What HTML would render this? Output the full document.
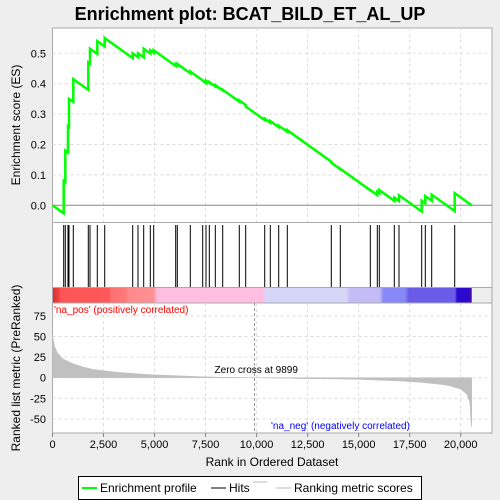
<!DOCTYPE html>
<html><head><meta charset="utf-8"><style>
body{margin:0;background:#eeeeee;font-family:"Liberation Sans",sans-serif;}
svg{display:block}
</style></head><body>
<svg id="c" width="500" height="500" xmlns="http://www.w3.org/2000/svg">
<rect x="0" y="0" width="500" height="500" fill="#eeeeee"/>
<text x="250" y="20" text-anchor="middle" font-size="18" font-weight="bold" fill="#000">Enrichment plot: BCAT_BILD_ET_AL_UP</text>
<g id="es"></g>
<g id="hits"></g>
<g id="metric"></g>
<text transform="translate(20,125) rotate(-90)" text-anchor="middle" font-size="12">Enrichment score (ES)</text>
<text transform="translate(20,368) rotate(-90)" text-anchor="middle" font-size="12">Ranked list metric (PreRanked)</text>
<text x="272" y="466" text-anchor="middle" font-size="12">Rank in Ordered Dataset</text>
<g>
<rect x="78.5" y="476.5" width="343" height="23" fill="#fff" stroke="#000"/>
<line x1="82" y1="488" x2="97" y2="488" stroke="#00ff00" stroke-width="2"/>
<text x="100" y="492" font-size="12">Enrichment profile</text>
<line x1="211" y1="488" x2="226" y2="488" stroke="#000" stroke-width="1"/>
<text x="229" y="492" font-size="12">Hits</text>
<line x1="253" y1="482" x2="267" y2="482" stroke="#bbb"/>
<line x1="276" y1="488" x2="291" y2="488" stroke="#bbb"/>
<text x="294" y="492" font-size="12">Ranking metric scores</text>
</g>
</svg>
<script>
const hitRanks=[549,627,759,808,1019,1754,1837,2195,2558,3929,4189,4468,4792,4958,6036,6115,6752,7359,7521,7683,7977,8339,9152,9466,10397,10671,11083,11504,13660,14101,15571,15914,16012,16747,16977,18089,18266,18579,19706];
const esAtHit=[0.08,0.18,0.26,0.35,0.415,0.47,0.515,0.54,0.55,0.50,0.50,0.515,0.51,0.51,0.465,0.465,0.44,0.41,0.41,0.405,0.395,0.38,0.345,0.325,0.285,0.277,0.262,0.247,0.14,0.12,0.05,0.045,0.05,0.025,0.033,0.015,0.03,0.035,0.04];
const esTicks=[0.0,0.1,0.2,0.3,0.4,0.5];
const metricRanks=[0,100,250,500,1000,1500,2000,3000,4000,5000,6000,7000,8000,9899,11000,12000,14000,15000,16000,17000,18000,19000,19500,20000,20300,20450,20500,20540];
const metricValues=[52,38,30,23,17,13,10,7,5,3.5,2.5,1.5,0.7,0,-0.5,-1,-1.5,-2,-3,-4,-5.5,-8,-10,-14,-20,-30,-52,-60];
const metricTicks=[75,50,25,0,-25,-50];
const xTicks=[0,2500,5000,7500,10000,12500,15000,17500,20000];
const xTickLabels=["0","2,500","5,000","7,500","10,000","12,500","15,000","17,500","20,000"];
const totalRanks=20540, zeroCross=9899, esSlope=4.8e-5;

const NS="http://www.w3.org/2000/svg";
const L=52.5,R=492,x=r=>L+r*0.02041;
const esY=v=>205.3-v*304;
const mY=v=>377.7-v*0.825;
function mk(p,t,a){const e=document.createElementNS(NS,t);for(const k in a)e.setAttribute(k,a[k]);p.appendChild(e);return e;}
const es=document.getElementById('es'),hits=document.getElementById('hits'),met=document.getElementById('metric');

// ES panel
let r=mk(es,'rect',{x:L,y:28,width:R-L,height:194.5,fill:'#fff',stroke:'#aaa'});


xTicks.forEach(t=>{if(t>0){const g=mk(es,'line',{x1:x(t),x2:x(t),y1:28,y2:222,stroke:'#ddd','stroke-dasharray':'3,3'});}});
esTicks.forEach(t=>{const y=esY(t);
 if(t>0){const g=mk(es,'line',{x1:L,x2:R,y1:y,y2:y,stroke:'#ddd','stroke-dasharray':'3,3'});}
 const tx=mk(es,'text',{x:46,y:y+4,'text-anchor':'end','font-size':11});tx.textContent=t.toFixed(1);
 });
const zl=mk(es,'line',{x1:L,x2:R,y1:esY(0),y2:esY(0),stroke:'#888'});

let pts=[[0,0]],prev=0,pr=0;
hitRanks.forEach((h,i)=>{const pre=prev-esSlope*(h-pr);pts.push([h,pre]);pts.push([h,esAtHit[i]]);prev=esAtHit[i];pr=h;});
pts.push([totalRanks,prev-esSlope*(totalRanks-pr)]);
const pl=mk(es,'polyline',{points:pts.map(p=>x(p[0])+','+esY(p[1])).join(' '),fill:'none',stroke:'#00ff00','stroke-width':2.5});


// hits panel
r=mk(hits,'rect',{x:L,y:222.5,width:R-L,height:65,fill:'#fff',stroke:'#aaa'});

hitRanks.forEach(h=>{const l=mk(hits,'line',{x1:x(h),x2:x(h),y1:225,y2:287,stroke:'#000','stroke-width':1});
 });
const defs=mk(hits,'defs',{});
const gr=mk(defs,'linearGradient',{id:'cb',x1:'0',x2:'1',y1:'0',y2:'0'});
[[0,'#e02828'],[0.015,'#f04444'],[0.02,'#ff5555'],[0.135,'#ff5858'],[0.14,'#ff7070'],[0.175,'#ff7878'],[0.18,'#ff8a8a'],[0.24,'#ff9090'],[0.25,'#ffbde0'],[0.5,'#ffbde0'],[0.51,'#d6d6f8'],[0.70,'#d6d6f8'],[0.71,'#c4bcf6'],[0.78,'#c4bcf6'],[0.79,'#8888f6'],[0.84,'#8888f6'],[0.85,'#6a5ce8'],[0.96,'#6a5ce8'],[0.965,'#2b08d0'],[0.99,'#2b08d0'],[1,'#4a0aa0']].forEach(s=>mk(gr,'stop',{offset:s[0],'stop-color':s[1]}));
r=mk(hits,'rect',{x:L,y:287.5,width:x(totalRanks)-L,height:15.5,fill:'url(#cb)'});

const cbo=mk(hits,'rect',{x:L,y:287.5,width:R-L,height:15.5,fill:'none',stroke:'#aaa'});


// metric panel
r=mk(met,'rect',{x:L,y:303,width:R-L,height:130,fill:'#fff',stroke:'#aaa'});

xTicks.forEach(t=>{if(t>0){const g=mk(met,'line',{x1:x(t),x2:x(t),y1:303,y2:433,stroke:'#ddd','stroke-dasharray':'3,3'});}});
metricTicks.forEach(t=>{const y=mY(t);
 const g=mk(met,'line',{x1:L,x2:R,y1:y,y2:y,stroke:'#ddd','stroke-dasharray':'3,3'});
 const tx=mk(met,'text',{x:46,y:y+4,'text-anchor':'end','font-size':11});tx.textContent=t;
 });
let ap='M'+x(0)+','+mY(0);
metricRanks.forEach((m,i)=>{ap+=' L'+x(m)+','+mY(metricValues[i]);});
ap+=' L'+x(totalRanks)+','+mY(0)+' Z';
const area=mk(met,'path',{d:ap,fill:'#c0c0c0',stroke:'#c0c0c0','stroke-width':0.5});

const zc=mk(met,'line',{x1:x(zeroCross),x2:x(zeroCross),y1:303,y2:433,stroke:'#999','stroke-dasharray':'3,2'});

let t=mk(met,'text',{x:x(zeroCross)-40,y:373,'font-size':10});t.textContent='Zero cross at '+zeroCross;

t=mk(met,'text',{x:54,y:313,'font-size':10,fill:'#ff0000'});t.textContent="'na_pos' (positively correlated)";

t=mk(met,'text',{x:271,y:429,'font-size':10,fill:'#0000ff'});t.textContent="'na_neg' (negatively correlated)";

xTicks.forEach((v,i)=>{const tk=mk(met,'line',{x1:x(v),x2:x(v),y1:433,y2:437,stroke:'#888'});
 
 const tx=mk(met,'text',{x:x(v),y:448,'text-anchor':'middle','font-size':11});tx.textContent=xTickLabels[i];
 });
</script>
</body></html>
